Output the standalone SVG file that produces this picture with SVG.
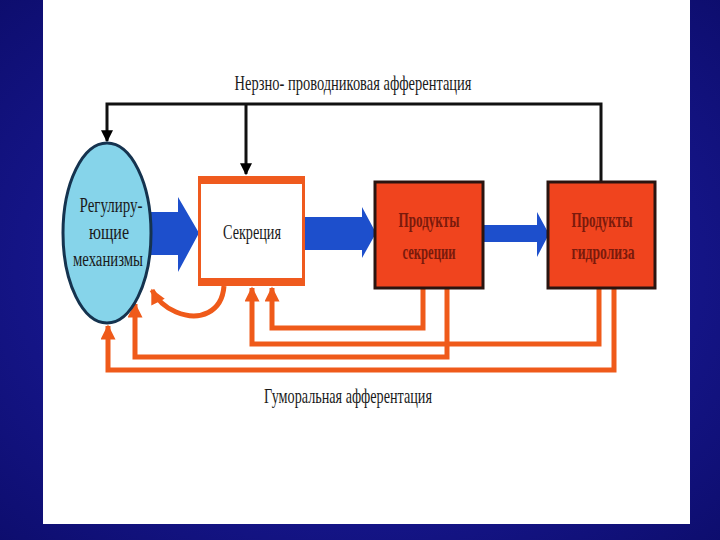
<svg xmlns="http://www.w3.org/2000/svg" width="720" height="540" viewBox="0 0 720 540">
<defs>
<radialGradient id="bg" cx="0.5" cy="0.5" r="0.75">
<stop offset="0" stop-color="#2222b4"/>
<stop offset="1" stop-color="#0c0c6a"/>
</radialGradient>
<marker id="ah-black" viewBox="0 0 10 10" refX="9" refY="5" markerWidth="5" markerHeight="4" markerUnits="strokeWidth" orient="auto">
<path d="M0,0 L10,5 L0,10 z" fill="#000"/>
</marker>
<marker id="ah-orange" viewBox="0 0 10 10" refX="9" refY="5" markerWidth="3.2" markerHeight="3" markerUnits="strokeWidth" orient="auto">
<path d="M0,0 L10,5 L0,10 z" fill="#ef5a1a"/>
</marker>
<style>
.nerve{fill:none;stroke:#111;stroke-width:3}
.hum{fill:none;stroke:#ef5a1a;stroke-width:5;stroke-linejoin:miter}
.blue{fill:#1d4fcc}
.lbl{font-family:"Liberation Serif","DejaVu Serif",serif;fill:#1a1a1a}
.red{fill:#f0441e;stroke:#2a1410;stroke-width:3}
.rtxt{font-family:"Liberation Serif","DejaVu Serif",serif;font-size:21px;fill:#7a1a0c;text-anchor:middle;font-weight:bold}
</style>
</defs>
<rect x="0" y="0" width="720" height="540" fill="url(#bg)"/>
<rect x="43" y="0" width="647" height="524" fill="#ffffff"/>

<g id="connectors">
<path class="nerve" d="M601,182 V104 H107 V141" marker-end="url(#ah-black)" stroke-width="4"/>
<path class="nerve" d="M246,104 V174" marker-end="url(#ah-black)"/>
<path class="blue" d="M151,212 H178 V197 L199,233 L178,272 V255 H151 z"/>
<path class="blue" d="M305,217 H362 V207 L376,233 L362,258 V250 H305 z"/>
<path class="blue" d="M483,225 H537 V212 L549,234 L537,257 V242 H483 z"/>
<path class="hum" d="M224,286 C222,312 200,322 176,312 C164,307 156,298 152,290" marker-end="url(#ah-orange)"/>
<path class="hum" d="M423,288 V328 H272 V288" marker-end="url(#ah-orange)"/>
<path class="hum" d="M599,288 V344 H252 V288" marker-end="url(#ah-orange)"/>
<path class="hum" d="M447,288 V357 H135 V304" marker-end="url(#ah-orange)"/>
<path class="hum" d="M614,288 V370 H108 V326" marker-end="url(#ah-orange)"/>
<text class="lbl" x="353" y="90" font-size="22" text-anchor="middle" textLength="237" lengthAdjust="spacingAndGlyphs">Нерзно- проводниковая афферентация</text>
<text class="lbl" x="348" y="403" font-size="22" text-anchor="middle" textLength="168" lengthAdjust="spacingAndGlyphs">Гуморальная афферентация</text>
</g>

<g id="reg">
<ellipse cx="107" cy="233" rx="44" ry="90" fill="#86d4ea" stroke="#15334f" stroke-width="3"/>
<text class="lbl" x="111" y="212" font-size="20" text-anchor="middle" textLength="63" lengthAdjust="spacingAndGlyphs">Регулиру-</text>
<text class="lbl" x="109" y="239" font-size="20" text-anchor="middle" textLength="40" lengthAdjust="spacingAndGlyphs">ющие</text>
<text class="lbl" x="108" y="266" font-size="20" text-anchor="middle" textLength="70" lengthAdjust="spacingAndGlyphs">механизмы</text>
</g>

<g id="secr">
<rect x="198" y="176" width="107" height="110" fill="#ef5a1e"/>
<rect x="201" y="184" width="101" height="94" fill="#ffffff"/>
<text class="lbl" x="252" y="239" font-size="20" text-anchor="middle" textLength="58" lengthAdjust="spacingAndGlyphs">Секреция</text>
</g>

<g id="prodsecr">
<rect class="red" x="375" y="182" width="108" height="106"/>
<text class="rtxt" x="429" y="227" textLength="61" lengthAdjust="spacingAndGlyphs">Продукты</text>
<text class="rtxt" x="429" y="259" textLength="53" lengthAdjust="spacingAndGlyphs">секреции</text>
</g>

<g id="prodhydr">
<rect class="red" x="548" y="182" width="107" height="106"/>
<text class="rtxt" x="602" y="227" textLength="61" lengthAdjust="spacingAndGlyphs">Продукты</text>
<text class="rtxt" x="603" y="259" textLength="63" lengthAdjust="spacingAndGlyphs">гидролиза</text>
</g>
</svg>
